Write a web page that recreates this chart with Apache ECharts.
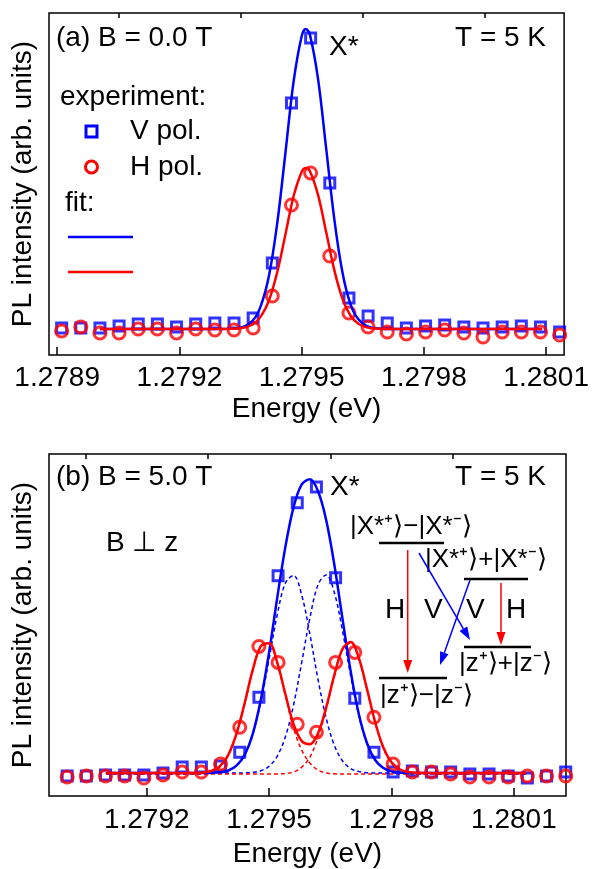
<!DOCTYPE html>
<html>
<head>
<meta charset="utf-8">
<script src="https://cdn.jsdelivr.net/npm/echarts@6.0.0/dist/echarts.min.js"></script>
<style>
html, body { margin: 0; padding: 0; background: #fff; }
#chart { width: 592px; height: 869px; }
</style>
</head>
<body>
<div id="chart"></div>
<script>
// measured energy grid (eV), shared by both panels
const energy = [1.278911, 1.278958, 1.279005, 1.279052, 1.279099, 1.279146, 1.279193, 1.279240,
  1.279287, 1.279334, 1.279381, 1.279428, 1.279475, 1.279522, 1.279569, 1.279616, 1.279663,
  1.279710, 1.279757, 1.279804, 1.279851, 1.279898, 1.279945, 1.279992, 1.280039, 1.280086,
  1.280133, 1.280180, 1.280227]

// (a) B = 0 T, points 0..26
const vPolA = [27, 27, 27, 29, 31, 31, 28, 31, 32, 32, 37, 92, 252, 317, 172, 57, 39, 32, 27, 29, 30, 28, 27, 28, 29, 28, 23]
const hPolA = [24, 28, 22, 22, 26, 26, 22, 26, 25, 25, 27, 59, 150, 182, 99, 42, 28, 23, 21, 23, 25, 22, 18, 23, 23, 23, 20]

const fitEnergyA = [1.279005, 1.2793, 1.27935, 1.27938, 1.2794, 1.27942, 1.27944, 1.27946, 1.27948,
  1.2795, 1.27951, 1.27952, 1.27954, 1.27956, 1.27958, 1.2796, 1.27962, 1.27964, 1.27967, 1.27972, 1.28009]
const fitVA = [26, 26, 27.4, 34.5, 49.4, 79.7, 131.6, 201.5, 272.9, 318.8, 326, 320.6, 276.6, 207.1, 136.2, 82.8, 50.6, 35.3, 27.5, 26, 26]
const fitHA = [26, 26, 26.7, 30.5, 38.6, 54.8, 82.7, 120.2, 158.5, 183.1, 187, 184.1, 160.4, 123.2, 85.1, 56.4, 39.2, 31, 26.8, 26, 26]

// (b) B = 5 T, points 1..28
const vPolB = [22, 20, 20, 21, 21, 21, 23, 29, 29, 30, 44, 99, 221, 294, 310, 219, 98, 44, 24, 25, 24, 24, 22, 22, 20, 18, 20, 24]
const hPolB = [19, 19, 20, 20, 20, 18, 21, 24, 24, 32, 69, 150, 134, 72, 64, 134, 144, 79, 32, 24, 24, 22, 19, 19, 19, 20, 20, 20]

const fitEnergyB = [1.2791, 1.2793, 1.27934, 1.27936, 1.27938, 1.2794, 1.27942, 1.27944, 1.27946, 1.27948,
  1.2795, 1.27952, 1.27954, 1.27956, 1.27958, 1.2796, 1.27962, 1.27964, 1.27966, 1.27968, 1.2797,
  1.27972, 1.27974, 1.27976, 1.27978, 1.2798, 1.27982, 1.27984, 1.27988, 1.28013]
const fitVB = [23, 23, 23, 23.2, 23.8, 25.6, 30.4, 41.2, 62.4, 97.2, 144.3, 199, 250.1, 289.7, 312.5, 317.6,
  305.6, 276.6, 231.6, 177.4, 125, 81.9, 52.9, 36.1, 28, 24.7, 23.5, 23.1, 23, 23]
const fitHB = [23, 23, 23.6, 25.3, 30.2, 41.4, 62.5, 93, 126.7, 150.5, 153.3, 133.7, 101.9, 72, 55, 52,
  63, 89, 121.5, 147.7, 154.5, 138.2, 107.2, 74, 48.7, 33.8, 26.8, 24.1, 23, 23]
const compV1B = [23, 23, 23, 23.2, 23.8, 25.6, 30.4, 41, 61.7, 94.8, 137.5, 182, 213.6, 221.2, 201.3, 162.1,
  116.6, 77.9, 50.7, 35.1, 27.6, 24.5, 23.4, 23.1, 23, 23, 23, 23, 23, 23]
const compV2B = [23, 23, 23, 23, 23, 23, 23, 23.2, 23.7, 25.4, 29.8, 40, 59.5, 91.5, 134.2, 178.5,
  212, 221.7, 203.9, 165.3, 120.4, 80.4, 52.5, 36, 28, 24.7, 23.5, 23.1, 23, 23]
const compH1B = [22, 22, 22.6, 24.3, 29.2, 40.4, 61.5, 92, 125.7, 149.5, 152.3, 132.6, 100.4, 68, 46, 33,
  26, 23, 22.2, 22, 22, 22, 22, 22, 22, 22, 22, 22, 22, 22]
const compH2B = [22, 22, 22, 22, 22, 22, 22, 22, 22, 22, 22, 22.1, 22.5, 24, 29, 39,
  59, 87, 120.3, 146.7, 153.5, 137.2, 106.2, 73, 47.7, 32.8, 25.8, 23.1, 22, 22]

const majorTicksA = [1.2789, 1.2792, 1.2795, 1.2798, 1.2801]
const majorTicksB = [1.2792, 1.2795, 1.2798, 1.2801]
const minorTicks = [1.27905, 1.27935, 1.27965, 1.27995]

const BLUE = '#0000ff'
const RED = '#ff0000'
const FONT = '"Liberation Sans", Arial, sans-serif'

const zip = (xs, ys) => xs.map((x, i) => [x, ys[i]])

function xAxes(grid, min, max, majors, margin, gap) {
  return [{
    type: 'value', gridIndex: grid, min: min, max: max,
    axisLine: { show: false },
    splitLine: { show: false },
    axisTick: { inside: true, length: 8, customValues: majors, lineStyle: { color: '#000', width: 1.5 } },
    axisLabel: { customValues: majors, formatter: v => v.toFixed(4), fontSize: 28, color: '#000', fontFamily: FONT, margin: margin },
    name: 'Energy (eV)', nameLocation: 'middle', nameGap: gap,
    nameTextStyle: { fontSize: 28, color: '#000', fontFamily: FONT }
  }, {
    type: 'value', gridIndex: grid, min: min, max: max,
    axisLine: { show: false },
    splitLine: { show: false },
    axisLabel: { show: false },
    axisTick: { inside: true, length: 5, customValues: minorTicks, lineStyle: { color: '#000', width: 1.5 } }
  }]
}

function yAxis(grid, max) {
  return {
    type: 'value', gridIndex: grid, min: 0, max: max,
    axisLine: { show: false }, axisTick: { show: false },
    axisLabel: { show: false }, splitLine: { show: false },
    name: 'PL intensity (arb. units)', nameLocation: 'middle', nameGap: 12,
    nameTextStyle: { fontSize: 28, color: '#000', fontFamily: FONT }
  }
}

function points(name, xi, yi, data, shape, color, z) {
  return {
    name: name, type: 'scatter', xAxisIndex: xi, yAxisIndex: yi, data: data,
    symbol: shape, symbolSize: shape === 'rect' ? 10 : 12,
    itemStyle: { color: 'rgba(255,255,255,0)', borderColor: color, borderWidth: 3 },
    z: z
  }
}

function curve(name, xi, yi, data, color, dashed, z) {
  return {
    name: name, type: 'line', xAxisIndex: xi, yAxisIndex: yi, data: data,
    symbol: 'none', smooth: 0.35,
    lineStyle: dashed ? { color: color, width: 1.5, type: [4, 3] } : { color: color, width: 2.5 },
    z: z
  }
}

function text(t, x, y, size) {
  return {
    type: 'text', x: x, y: y, z: 100,
    style: { text: t, font: size + 'px ' + FONT, fill: '#000', align: 'left', verticalAlign: 'middle' }
  }
}

function seg(x1, y1, x2, y2, color, w) {
  return { type: 'line', z: 100, shape: { x1: x1, y1: y1, x2: x2, y2: y2 }, style: { stroke: color, lineWidth: w } }
}

function arrow(x1, y1, x2, y2, color) {
  const len = Math.hypot(x2 - x1, y2 - y1)
  const ux = (x2 - x1) / len, uy = (y2 - y1) / len
  const bx = x2 - ux * 13, by = y2 - uy * 13
  return [
    seg(x1, y1, bx, by, color, 1.5),
    { type: 'polygon', z: 100, shape: { points: [[x2, y2], [bx - uy * 4.5, by + ux * 4.5], [bx + uy * 4.5, by - ux * 4.5]] }, style: { fill: color } }
  ]
}

const chart = echarts.init(document.getElementById('chart'))

const gridStyle = { show: true, borderColor: '#000', borderWidth: 1.5, backgroundColor: 'transparent' }

chart.setOption({
  animation: false,
  backgroundColor: '#fff',
  grid: [
    Object.assign({ left: 49, top: 13, width: 517, height: 342 }, gridStyle),
    Object.assign({ left: 49, top: 454, width: 517, height: 343 }, gridStyle)
  ],
  xAxis: [].concat(
    xAxes(0, 1.27888, 1.280144, majorTicksA, 9, 40),
    xAxes(1, 1.2789605, 1.2802277, majorTicksB, 10, 44)
  ),
  yAxis: [yAxis(0, 342), yAxis(1, 343)],
  series: [
    points('V pol.', 0, 0, zip(energy.slice(0, 27), vPolA), 'rect', BLUE, 2),
    points('H pol.', 0, 0, zip(energy.slice(0, 27), hPolA), 'circle', RED, 3),
    curve('V fit', 0, 0, zip(fitEnergyA, fitVA), BLUE, false, 4),
    curve('H fit', 0, 0, zip(fitEnergyA, fitHA), RED, false, 5),

    curve('V comp 1', 2, 1, zip(fitEnergyB, compV1B), BLUE, true, 1),
    curve('V comp 2', 2, 1, zip(fitEnergyB, compV2B), BLUE, true, 1),
    curve('H comp 1', 2, 1, zip(fitEnergyB, compH1B), RED, true, 1),
    curve('H comp 2', 2, 1, zip(fitEnergyB, compH2B), RED, true, 1),
    points('V pol. B', 2, 1, zip(energy.slice(1), vPolB), 'rect', BLUE, 2),
    points('H pol. B', 2, 1, zip(energy.slice(1), hPolB), 'circle', RED, 3),
    curve('V fit B', 2, 1, zip(fitEnergyB, fitVB), BLUE, false, 4),
    curve('H fit B', 2, 1, zip(fitEnergyB, fitHB), RED, false, 5)
  ],
  graphic: [
    // panel (a)
    text('(a) B = 0.0 T', 56, 38, 28),
    text('T = 5 K', 455, 38, 28),
    text('X*', 329, 47, 28),
    text('experiment:', 60, 97, 28),
    { type: 'rect', z: 100, shape: { x: 86, y: 126, width: 11, height: 11 }, style: { fill: 'none', stroke: BLUE, lineWidth: 3 } },
    text('V pol.', 130, 131, 28),
    { type: 'circle', z: 100, shape: { cx: 91.5, cy: 167, r: 6 }, style: { fill: 'none', stroke: RED, lineWidth: 3 } },
    text('H pol.', 130, 167, 28),
    text('fit:', 65, 203, 28),
    seg(68, 237, 133, 237, BLUE, 2.5),
    seg(68, 272, 133, 272, RED, 2.5),

    // panel (b)
    text('(b) B = 5.0 T', 56, 477, 28),
    text('T = 5 K', 455, 477, 28),
    text('X*', 330, 487, 28),
    text('B \u22a5 z', 106, 543, 28),
    text('|X*\u207a\u27e9\u2212|X*\u207b\u27e9', 350, 527, 26),
    text('|X*\u207a\u27e9+|X*\u207b\u27e9', 425, 560, 26),
    seg(379, 543, 444, 543, '#000', 2.5),
    seg(464, 579, 528, 579, '#000', 2.5),
    seg(464, 647, 531, 647, '#000', 2.5),
    seg(379, 678, 447, 678, '#000', 2.5),
    text('H', 385, 610, 28),
    text('V', 424, 610, 28),
    text('V', 466, 610, 28),
    text('H', 506, 610, 28),
    ...arrow(407.7, 550, 407.7, 673, RED),
    ...arrow(501, 583, 501, 645, RED),
    ...arrow(419, 553, 470, 640, BLUE),
    ...arrow(470, 580, 440, 665, BLUE),
    text('|z\u207a\u27e9+|z\u207b\u27e9', 459, 664, 26),
    text('|z\u207a\u27e9\u2212|z\u207b\u27e9', 380, 696, 26)
  ]
})
</script>
</body>
</html>
